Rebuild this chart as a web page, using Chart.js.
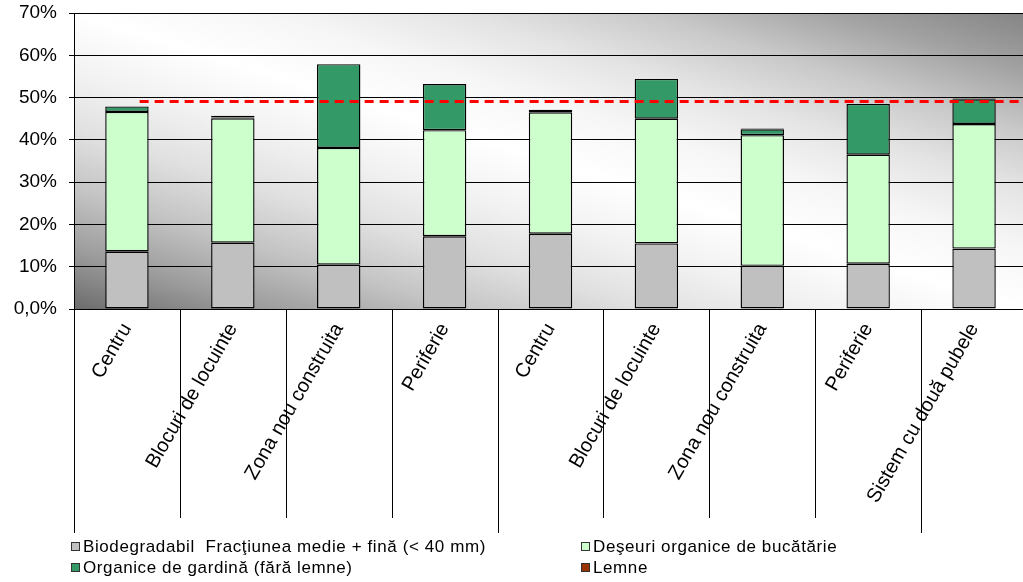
<!DOCTYPE html>
<html>
<head>
<meta charset="utf-8">
<script src="https://cdn.jsdelivr.net/npm/chart.js@4/dist/chart.umd.min.js"></script>
<style>
  html, body { margin: 0; padding: 0; background: #fff; overflow: hidden; }
  #wrap { width: 1023px; height: 582px; overflow: hidden; }
</style>
</head>
<body>
<div id="wrap"><canvas id="myChart" width="1027" height="582"></canvas></div>
<script>
var zones = ['Centru', 'Blocuri de locuinte', 'Zona nou construita', 'Periferie',
    'Centru', 'Blocuri de locuinte', 'Zona nou construita', 'Periferie', 'Sistem cu două pubele'];
// last index of each group of zones (longer divider after it)
var groupEnds = [3, 7, 8];

// shares in %
var fineFraction = [13.6, 15.7, 10.5, 17.2, 17.8, 15.5, 10.2, 10.7, 14.3];
var kitchenWaste = [33.0, 29.4, 27.6, 25.1, 28.7, 29.5, 30.9, 25.8, 29.45];
var gardenWaste = [1.3, 0.2, 19.8, 10.9, 0, 9.4, 1.4, 12.0, 5.85];
var wood = [0, 0.4, 0, 0, 0.6, 0, 0.2, 0, 0.2];

var seriesNames = ['Biodegradabil  Fracţiunea medie + fină (< 40 mm)', 'Deşeuri organice de bucătărie',
    'Organice de gardină (fără lemne)', 'Lemne'];
var seriesColors = ['#C0C0C0', '#CCFFCC', '#339966', '#993300'];

// limit line: value and where it runs along the category axis (in category units)
var limitValue = 49.1;
var limitFrom = 0.12;
var limitTo = 8.5;

var yMax = 70;
var yStep = 10;

var font = "'Liberation Sans', Arial, sans-serif";

var plotBackground = {
    id: 'plotBackground',
    beforeDraw: function (chart) {
        var a = chart.chartArea, ctx = chart.ctx;
        ctx.save();
        ctx.translate(a.left, a.top);
        ctx.scale(a.right - a.left, a.bottom - a.top);
        var g = ctx.createLinearGradient(0, 1, 1, 0);
        g.addColorStop(0, '#6c6c6c');
        g.addColorStop(0.1, '#9c9c9c');
        g.addColorStop(0.2, '#c3c3c3');
        g.addColorStop(0.3, '#e0e0e0');
        g.addColorStop(0.4, '#f2f2f2');
        g.addColorStop(0.5, '#ffffff');
        g.addColorStop(0.6, '#f6f6f6');
        g.addColorStop(0.7, '#e4e4e4');
        g.addColorStop(0.8, '#c8c8c8');
        g.addColorStop(0.9, '#a2a2a2');
        g.addColorStop(1, '#848484');
        ctx.fillStyle = g;
        ctx.fillRect(0, 0, 1, 1);
        ctx.restore();
    }
};

// dashed red limit, positioned with the chart's own scales
var limitLine = {
    id: 'limitLine',
    afterDatasetsDraw: function (chart) {
        var x = chart.scales.x, y = chart.scales.y, ctx = chart.ctx;
        var py = y.getPixelForValue(limitValue);
        ctx.save();
        ctx.strokeStyle = '#ff0000';
        ctx.lineWidth = 3;
        ctx.setLineDash([9, 6]);
        ctx.beginPath();
        ctx.moveTo(x.getPixelForValue(limitFrom), py);
        ctx.lineTo(x.getPixelForValue(limitTo), py);
        ctx.stroke();
        ctx.restore();
    }
};

var categoryDividers = {
    id: 'categoryDividers',
    afterDraw: function (chart) {
        var x = chart.scales.x, ctx = chart.ctx;
        ctx.save();
        ctx.strokeStyle = '#000';
        ctx.lineWidth = 1;
        for (var i = -1; i < zones.length; i++) {
            var px = Math.round(x.getPixelForValue(i + 0.5)) + 0.5;
            var isGroup = i === -1 || groupEnds.indexOf(i) >= 0;
            ctx.beginPath();
            ctx.moveTo(px, x.top);
            ctx.lineTo(px, x.top + (isGroup ? 224 : 209));
            ctx.stroke();
        }
        ctx.restore();
    }
};

// legend in two columns under the axis
var columnLegend = {
    id: 'columnLegend',
    afterDraw: function (chart) {
        var ctx = chart.ctx;
        var cols = [71, 581], rows = [547, 568];
        ctx.save();
        ctx.font = '17px ' + font;
        ctx.letterSpacing = '0.6px';
        ctx.textBaseline = 'middle';
        ctx.textAlign = 'left';
        chart.data.datasets.forEach(function (ds, i) {
            var x = cols[i % 2], y = rows[Math.floor(i / 2)];
            ctx.fillStyle = ds.backgroundColor;
            ctx.fillRect(x, y - 5, 9, 9);
            ctx.strokeStyle = '#333';
            ctx.lineWidth = 1;
            ctx.strokeRect(x + 0.5, y - 4.5, 8, 8);
            ctx.fillStyle = '#000';
            ctx.fillText(ds.label, x + 12, y);
        });
        ctx.restore();
    }
};

var ctx = document.getElementById('myChart').getContext('2d');
var myChart = new Chart(ctx, {
    type: 'bar',
    data: {
        labels: zones,
        datasets: [fineFraction, kitchenWaste, gardenWaste, wood].map(function (values, i) {
            return {
                label: seriesNames[i],
                data: values,
                backgroundColor: seriesColors[i],
                borderColor: '#000',
                borderWidth: 1.4,
                borderSkipped: false,
                grouped: false,
                barPercentage: 0.41,
                categoryPercentage: 1
            };
        })
    },
    options: {
        responsive: false,
        animation: false,
        layout: { padding: { top: 0, bottom: 45, left: 0, right: 0 } },
        plugins: {
            legend: { display: false },
            tooltip: { enabled: false }
        },
        scales: {
            x: {
                stacked: true,
                grid: { display: false },
                border: { color: '#000', width: 1 },
                ticks: {
                    color: '#000',
                    font: { family: font, size: 20 },
                    minRotation: 60,
                    maxRotation: 60,
                    autoSkip: false,
                    padding: 2
                },
                afterFit: function (scale) { scale.height = 228; }
            },
            y: {
                stacked: true,
                min: 0,
                max: yMax,
                grid: { color: '#000', lineWidth: 1, tickLength: 5 },
                border: { color: '#000', width: 1 },
                ticks: {
                    stepSize: yStep,
                    color: '#000',
                    padding: 12,
                    font: { family: font, size: 19 },
                    callback: function (v) { return v === 0 ? '0,0%' : v + '%'; }
                },
                afterFit: function (scale) {
                    scale.width = 74;
                    scale.paddingTop = 13;
                }
            }
        }
    },
    plugins: [plotBackground, limitLine, categoryDividers, columnLegend]
});
</script>
</body>
</html>
